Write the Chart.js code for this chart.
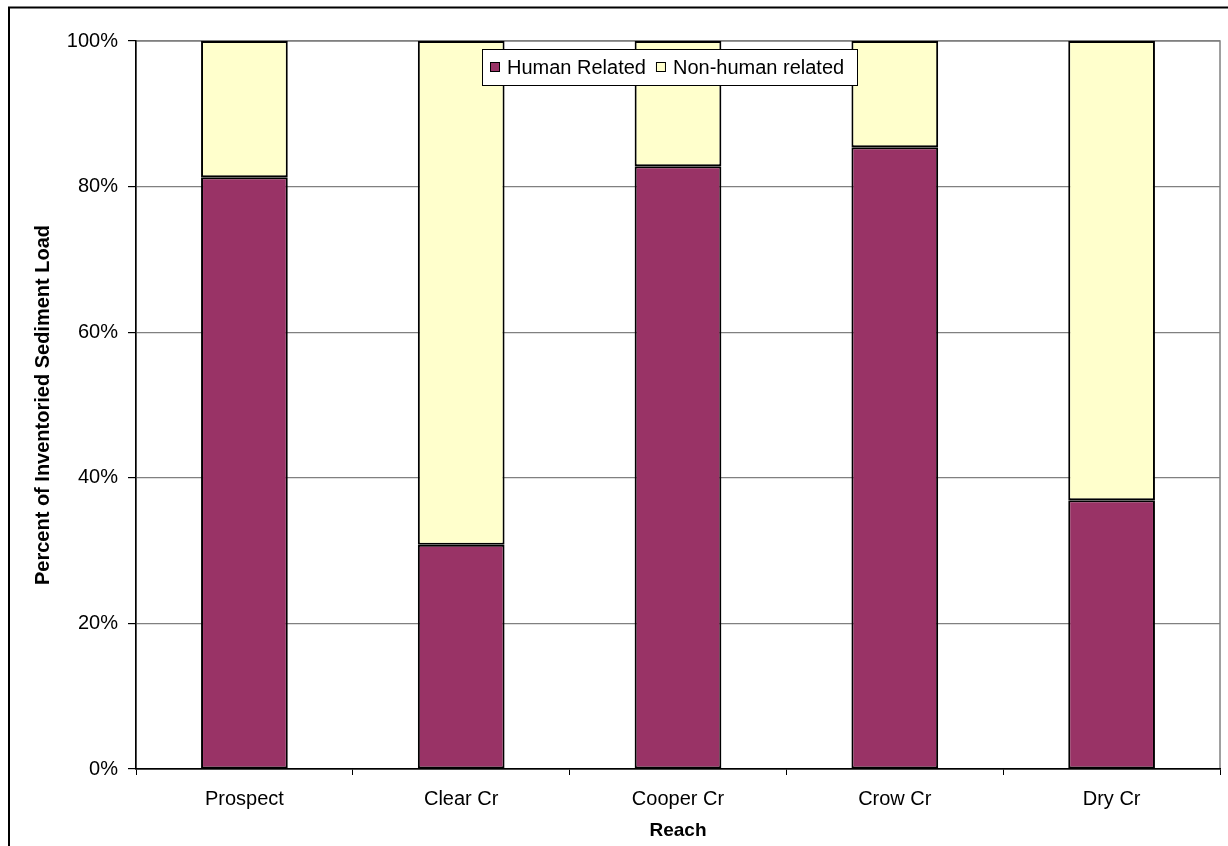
<!DOCTYPE html>
<html>
<head>
<meta charset="utf-8">
<style>
  html, body { margin: 0; padding: 0; background: #fff; }
  #wrap { width: 1228px; height: 846px; }
</style>
<script src="https://cdn.jsdelivr.net/npm/chart.js@4.4.0/dist/chart.umd.min.js"></script>
</head>
<body>
<div id="wrap"><canvas id="chart" width="1228" height="846"></canvas></div>
<script>
// reaches and percent of inventoried sediment load
var reaches = ['Prospect', 'Clear Cr', 'Cooper Cr', 'Crow Cr', 'Dry Cr'];
var humanRelated = [81.3, 30.8, 82.8, 85.4, 36.9];
var nonHumanRelated = [18.7, 69.2, 17.2, 14.6, 63.1];
var seriesNames = ['Human Related', 'Non-human related'];

var fontFamily = 'Arial, "Liberation Sans", sans-serif';

// outer frame + gray plot border
var framePlugin = {
    id: 'frame',
    beforeDraw: function(chart) {
        var ctx = chart.ctx;
        var a = chart.chartArea;
        ctx.save();
        ctx.strokeStyle = '#000';
        ctx.lineWidth = 2;
        ctx.strokeRect(9, 7.5, 1400, 1200);
        ctx.strokeStyle = '#808080';
        ctx.lineWidth = 1.5;
        ctx.strokeRect(a.left, a.top, a.right - a.left, a.bottom - a.top);
        ctx.restore();
    }
};

// legend box drawn inside the plot like the excel one
var legendPlugin = {
    id: 'insideLegend',
    afterDraw: function(chart) {
        var ctx = chart.ctx;
        var ds = chart.data.datasets;
        var x0 = 482, y0 = 49, w = 375, h = 36;
        ctx.save();
        ctx.fillStyle = '#fff';
        ctx.fillRect(x0, y0, w, h);
        ctx.strokeStyle = '#000';
        ctx.lineWidth = 1;
        ctx.strokeRect(x0 + 0.5, y0 + 0.5, w, h);
        ctx.font = '20px ' + fontFamily;
        ctx.textBaseline = 'middle';
        var x = x0 + 8;
        var cy = y0 + h / 2;
        for (var i = 0; i < ds.length; i++) {
            ctx.fillStyle = ds[i].backgroundColor;
            ctx.fillRect(x, cy - 5, 10, 10);
            ctx.strokeStyle = '#000';
            ctx.strokeRect(x + 0.5, cy - 5 + 0.5, 9, 9);
            ctx.fillStyle = '#000';
            ctx.fillText(ds[i].label, x + 17, cy + 1);
            x += 17 + ctx.measureText(ds[i].label).width + 10;
        }
        ctx.restore();
    }
};

new Chart(document.getElementById('chart'), {
    type: 'bar',
    data: {
        labels: reaches,
        datasets: [{
            label: seriesNames[0],
            data: humanRelated,
            backgroundColor: '#993366',
            borderColor: '#000',
            borderWidth: 2,
            borderSkipped: false,
            barPercentage: 0.4,
            categoryPercentage: 1
        }, {
            label: seriesNames[1],
            data: nonHumanRelated,
            backgroundColor: '#FFFFCC',
            borderColor: '#000',
            borderWidth: 2,
            borderSkipped: false,
            barPercentage: 0.4,
            categoryPercentage: 1
        }]
    },
    options: {
        responsive: false,
        animation: false,
        layout: { padding: { left: 0, top: 41, right: 8, bottom: 0 } },
        plugins: {
            legend: { display: false },
            tooltip: { enabled: false }
        },
        scales: {
            x: {
                stacked: true,
                afterFit: function(s) { s.height = 77; },
                grid: {
                    offset: true,
                    drawOnChartArea: false,
                    drawTicks: true,
                    tickLength: 6,
                    color: '#000',
                    lineWidth: 1
                },
                border: { color: '#000', width: 1.5 },
                ticks: {
                    color: '#000',
                    padding: 12,
                    maxRotation: 0,
                    font: { family: fontFamily, size: 20 }
                },
                title: {
                    display: true,
                    text: 'Reach',
                    color: '#000',
                    padding: { top: 0, bottom: 4 },
                    font: { family: fontFamily, size: 19, weight: 'bold' }
                }
            },
            y: {
                stacked: true,
                min: 0,
                max: 100,
                afterFit: function(s) { s.width = 136; },
                grid: {
                    color: '#808080',
                    lineWidth: 1.2,
                    drawTicks: true,
                    tickLength: 8,
                    tickColor: '#000'
                },
                border: { color: '#000', width: 1.5 },
                ticks: {
                    stepSize: 20,
                    color: '#000',
                    padding: 10,
                    font: { family: fontFamily, size: 20 },
                    callback: function(v) { return v + '%'; }
                },
                title: {
                    display: true,
                    text: 'Percent of Inventoried Sediment Load',
                    color: '#000',
                    padding: { top: 31, bottom: 0 },
                    font: { family: fontFamily, size: 20, weight: 'bold' }
                }
            }
        }
    },
    plugins: [framePlugin, legendPlugin]
});
</script>
</body>
</html>
